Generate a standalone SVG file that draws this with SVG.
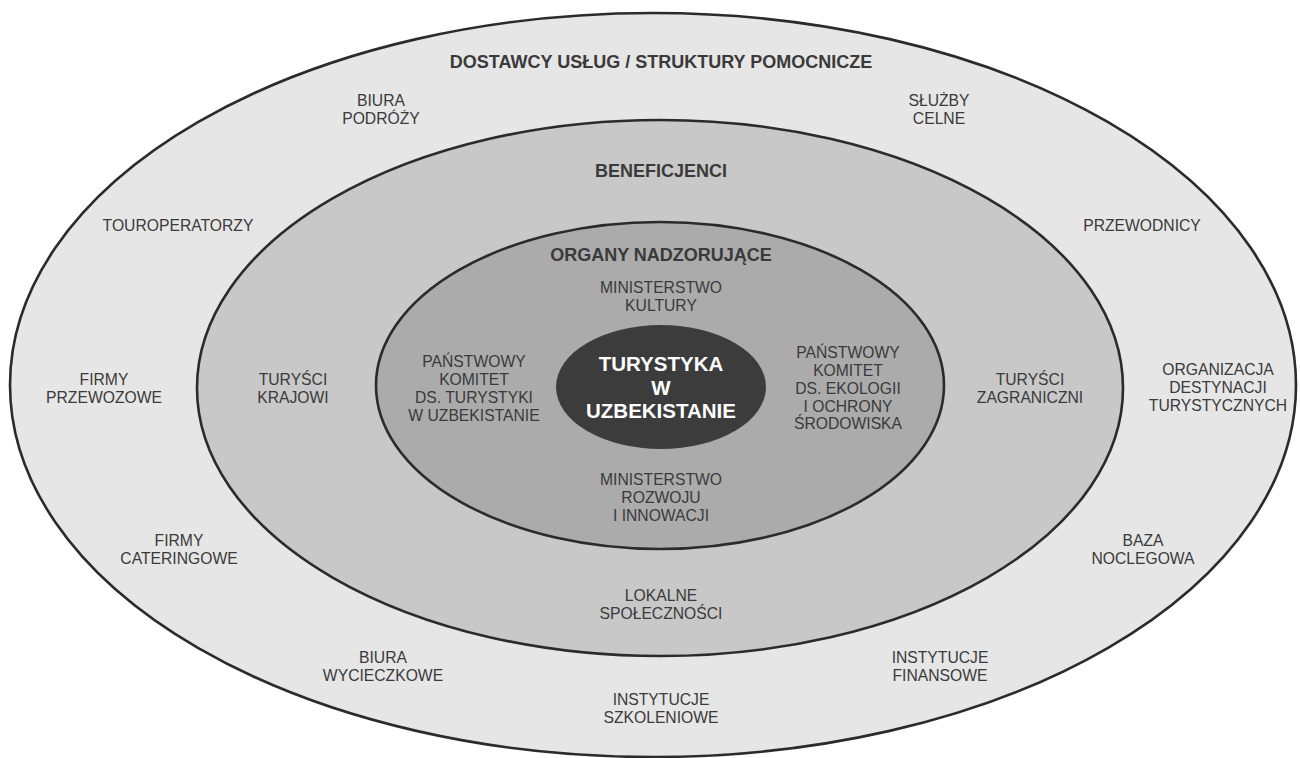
<svg xmlns="http://www.w3.org/2000/svg" width="1300" height="758" viewBox="0 0 1300 758">
<style>
.ring{stroke:#2b2b2b;stroke-width:2.6}
.lbl{font-family:"Liberation Sans",Arial,sans-serif;font-size:15.7px;fill:#3a3a3a;text-anchor:middle}
.hdr{font-family:"Liberation Sans",Arial,sans-serif;font-size:18px;font-weight:bold;fill:#3a3a3a;text-anchor:middle}
.core{font-family:"Liberation Sans",Arial,sans-serif;font-size:20.5px;font-weight:bold;fill:#ffffff;text-anchor:middle}
</style>
<rect width="1300" height="758" fill="#ffffff"/>
<g id="ring-outer">
<ellipse class="ring" cx="653" cy="385" rx="643" ry="372" fill="#e6e6e6"/>
<text class="hdr" x="661" y="68">DOSTAWCY USŁUG / STRUKTURY POMOCNICZE</text>
</g>
<g id="ring-middle">
<ellipse class="ring" cx="660" cy="388" rx="463" ry="268" fill="#c8c8c8"/>
<text class="hdr" x="661" y="177">BENEFICJENCI</text>
</g>
<g id="ring-inner">
<ellipse class="ring" cx="660" cy="385.5" rx="284" ry="163.5" fill="#ababab"/>
<text class="hdr" x="661" y="261">ORGANY NADZORUJĄCE</text>
</g>
<g id="core">
<ellipse cx="661" cy="387" rx="105" ry="62" fill="#3c3c3c"/>
<text class="core" x="661" y="371">TURYSTYKA</text>
<text class="core" x="661" y="395">W</text>
<text class="core" x="661" y="418">UZBEKISTANIE</text>
</g>
<g id="biura-podrozy"><text class="lbl" x="381" y="106">BIURA</text><text class="lbl" x="381" y="123.5">PODRÓŻY</text></g>
<g id="sluzby-celne"><text class="lbl" x="939" y="106">SŁUŻBY</text><text class="lbl" x="939" y="123.5">CELNE</text></g>
<g id="touroperatorzy"><text class="lbl" x="178" y="231">TOUROPERATORZY</text></g>
<g id="przewodnicy"><text class="lbl" x="1142" y="231">PRZEWODNICY</text></g>
<g id="firmy-przewozowe"><text class="lbl" x="104" y="385">FIRMY</text><text class="lbl" x="104" y="403">PRZEWOZOWE</text></g>
<g id="organizacja"><text class="lbl" x="1218" y="375">ORGANIZACJA</text><text class="lbl" x="1218" y="393">DESTYNACJI</text><text class="lbl" x="1218" y="411">TURYSTYCZNYCH</text></g>
<g id="firmy-cateringowe"><text class="lbl" x="179" y="546">FIRMY</text><text class="lbl" x="179" y="563.5">CATERINGOWE</text></g>
<g id="baza-noclegowa"><text class="lbl" x="1143" y="546">BAZA</text><text class="lbl" x="1143" y="563.5">NOCLEGOWA</text></g>
<g id="biura-wycieczkowe"><text class="lbl" x="383" y="663">BIURA</text><text class="lbl" x="383" y="681">WYCIECZKOWE</text></g>
<g id="instytucje-finansowe"><text class="lbl" x="940" y="663">INSTYTUCJE</text><text class="lbl" x="940" y="681">FINANSOWE</text></g>
<g id="instytucje-szkoleniowe"><text class="lbl" x="661" y="705">INSTYTUCJE</text><text class="lbl" x="661" y="722.5">SZKOLENIOWE</text></g>
<g id="turysci-krajowi"><text class="lbl" x="293" y="385">TURYŚCI</text><text class="lbl" x="293" y="403">KRAJOWI</text></g>
<g id="turysci-zagraniczni"><text class="lbl" x="1030" y="385">TURYŚCI</text><text class="lbl" x="1030" y="403">ZAGRANICZNI</text></g>
<g id="lokalne-spolecznosci"><text class="lbl" x="661" y="601">LOKALNE</text><text class="lbl" x="661" y="618.5">SPOŁECZNOŚCI</text></g>
<g id="ministerstwo-kultury"><text class="lbl" x="661" y="293">MINISTERSTWO</text><text class="lbl" x="661" y="311">KULTURY</text></g>
<g id="komitet-turystyki"><text class="lbl" x="474" y="367">PAŃSTWOWY</text><text class="lbl" x="474" y="385">KOMITET</text><text class="lbl" x="474" y="403">DS. TURYSTYKI</text><text class="lbl" x="474" y="421">W UZBEKISTANIE</text></g>
<g id="komitet-ekologii"><text class="lbl" x="848" y="358">PAŃSTWOWY</text><text class="lbl" x="848" y="376">KOMITET</text><text class="lbl" x="848" y="394">DS. EKOLOGII</text><text class="lbl" x="848" y="411.5">I OCHRONY</text><text class="lbl" x="848" y="429">ŚRODOWISKA</text></g>
<g id="ministerstwo-rozwoju"><text class="lbl" x="661" y="485">MINISTERSTWO</text><text class="lbl" x="661" y="503">ROZWOJU</text><text class="lbl" x="661" y="520.5">I INNOWACJI</text></g>
</svg>
